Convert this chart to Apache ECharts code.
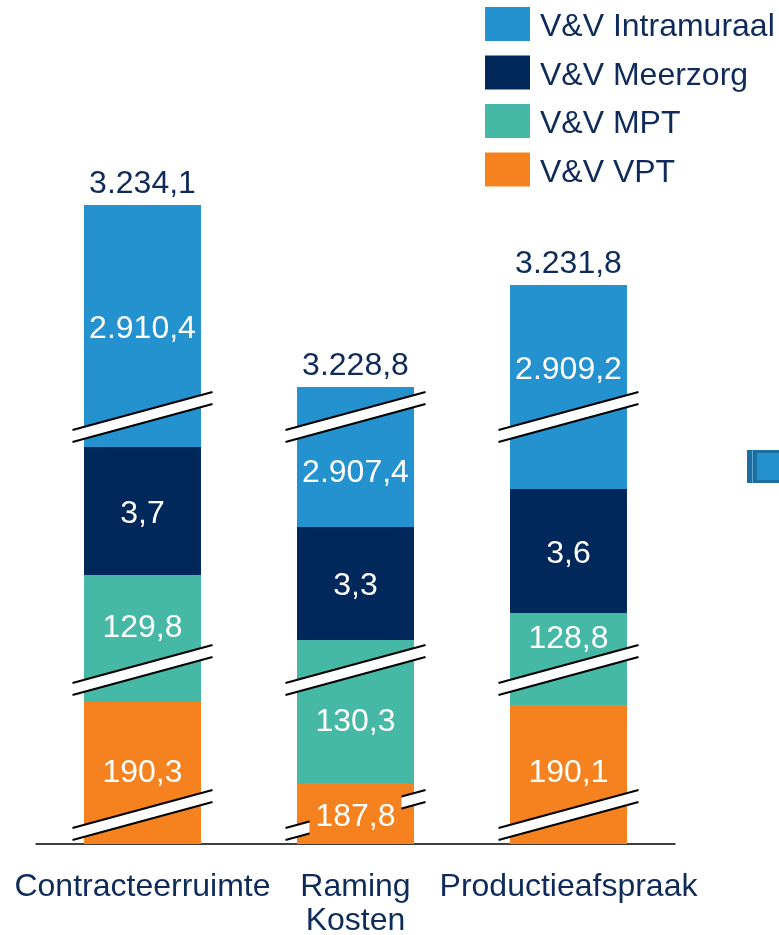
<!DOCTYPE html>
<html>
<head>
<meta charset="utf-8">
<script src="https://cdn.jsdelivr.net/npm/echarts@6/dist/echarts.min.js"></script>
<style>html,body{margin:0;padding:0;background:#fff}#chart{width:779px;height:935px}</style>
</head>
<body>
<div id="chart"></div>
<script>
var categories = ['Contracteerruimte', 'Raming\nKosten', 'Productieafspraak']
var seriesNames = ['V&V VPT', 'V&V MPT', 'V&V Meerzorg', 'V&V Intramuraal']
var legendOrder = ['V&V Intramuraal', 'V&V Meerzorg', 'V&V MPT', 'V&V VPT']

// values as printed on the chart
var vpt = [190.3, 187.8, 190.1]
var mpt = [129.8, 130.3, 128.8]
var meerzorg = [3.7, 3.3, 3.6]
var intramuraal = [2910.4, 2907.4, 2909.2]
var totals = [3234.1, 3228.8, 3231.8]

// segment heights as drawn on the broken axis (not to scale)
var vptDrawn = [142, 61, 139]
var mptDrawn = [127, 143, 92]
var meerzorgDrawn = [128, 113, 124]
var intramuraalDrawn = [242, 140, 204]

// axis break marks, same levels on every bar
var breakLevels = [29, 174, 427]

var colors = ['#F5821F', '#45B8A6', '#00285A', '#2492CF']
var navy = '#0E2B5A'
var fam = '"Liberation Sans", Arial, sans-serif'
var font = '32px ' + fam

var values = [vpt, mpt, meerzorg, intramuraal]
var drawn = [vptDrawn, mptDrawn, meerzorgDrawn, intramuraalDrawn]
// label shifts in px (where the original places the number off-centre)
var nudge = [[0, 4, -1], [-10, 11, -20], [3, 3, 3], [3, 16, -17]]

function fmt(v) {
  var p = v.toFixed(1).split('.')
  return p[0].replace(/\B(?=(\d{3})+(?!\d))/g, '.') + ',' + p[1]
}

var labelData = []
var tops = [0, 0, 0]
for (var s = 0; s < 4; s++) {
  for (var i = 0; i < 3; i++) {
    labelData.push([i, tops[i], drawn[s][i], values[s][i], s])
    tops[i] += drawn[s][i]
  }
}
for (var i = 0; i < 3; i++) labelData.push([i, tops[i], 0, totals[i], -1])

var breakData = []
for (var i = 0; i < 3; i++) {
  breakLevels.forEach(function (b) { breakData.push([i, b]) })
}

var series = seriesNames.map(function (n, s) {
  return {
    name: n, type: 'bar', stack: 'v', barWidth: 117,
    itemStyle: { color: colors[s] }, data: drawn[s], z: 2, silent: true
  }
})

series.push({
  type: 'custom', z: 3, silent: true, data: breakData,
  renderItem: function (params, api) {
    var p = api.coord([api.value(0), api.value(1)])
    var cx = p[0], cy = p[1], hw = 70, dy = 19, g = 6
    return {
      type: 'group', children: [
        { type: 'polygon', shape: { points: [[cx - hw, cy + dy - g], [cx + hw, cy - dy - g], [cx + hw, cy - dy + g], [cx - hw, cy + dy + g]] }, style: { fill: '#fff' } },
        { type: 'line', shape: { x1: cx - hw, y1: cy + dy - g, x2: cx + hw, y2: cy - dy - g }, style: { stroke: '#000', lineWidth: 2 } },
        { type: 'line', shape: { x1: cx - hw, y1: cy + dy + g, x2: cx + hw, y2: cy - dy + g }, style: { stroke: '#000', lineWidth: 2 } }
      ]
    }
  }
})

series.push({
  type: 'custom', z: 4, silent: true, data: labelData,
  renderItem: function (params, api) {
    var i = api.value(0), base = api.value(1), h = api.value(2), v = api.value(3), s = api.value(4)
    if (s < 0) {
      var t = api.coord([i, base])
      return { type: 'text', style: { text: fmt(v), x: t[0], y: t[1] - 5, align: 'center', verticalAlign: 'bottom', fill: navy, font: font } }
    }
    var p = api.coord([i, base + h / 2])
    var st = { text: fmt(v), x: p[0], y: p[1] + nudge[s][i], align: 'center', verticalAlign: 'middle', fill: '#fff', font: font }
    if (h < 80) { st.backgroundColor = colors[s]; st.padding = [10, 6] }
    return { type: 'text', style: st }
  }
})

var chart = echarts.init(document.getElementById('chart'))
chart.setOption({
  animation: false,
  grid: { left: 36, right: 104, top: 144, bottom: 91, outerBoundsMode: 'none', containLabel: false },
  legend: {
    data: legendOrder, orient: 'vertical', left: 485, top: 7, padding: 0,
    itemWidth: 45, itemHeight: 34, itemGap: 12, icon: 'rect', selectedMode: false,
    formatter: '{t|{name}}',
    textStyle: {
      fontSize: 32, color: navy, fontFamily: fam,
      rich: { t: { fontSize: 32, color: navy, fontFamily: fam, padding: [7, 0, 0, 5] } }
    }
  },
  xAxis: {
    type: 'category', data: categories,
    axisLine: { lineStyle: { color: '#000', width: 1.5 } },
    axisTick: { show: false },
    axisLabel: { interval: 0, margin: 26, fontSize: 32, lineHeight: 34, color: navy, fontFamily: fam }
  },
  yAxis: { type: 'value', min: 0, max: 700, show: false, splitLine: { show: false } },
  graphic: [
    { type: 'rect', shape: { x: 747, y: 450, width: 40, height: 33 }, style: { fill: '#1d6d9e' } },
    { type: 'rect', shape: { x: 752, y: 450, width: 1, height: 33 }, style: { fill: '#5aa6d6' } },
    { type: 'rect', shape: { x: 757, y: 453, width: 30, height: 27 }, style: { fill: '#2492CF' } }
  ],
  series: series
})
</script>
</body>
</html>
